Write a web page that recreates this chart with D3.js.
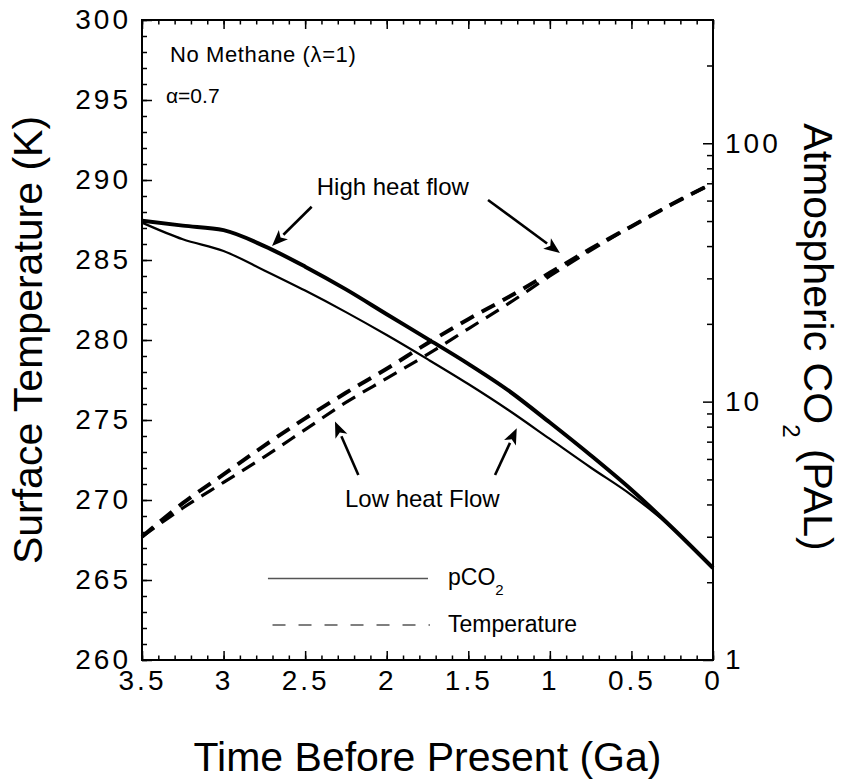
<!DOCTYPE html>
<html>
<head>
<meta charset="utf-8">
<script src="https://cdn.jsdelivr.net/npm/d3@7"></script>
<style>
  body { margin: 0; background: #fff; }
  svg { display: block; font-family: "Liberation Sans", Arial, Helvetica, sans-serif; }
  .tick text { font-size: 28px; letter-spacing: 3px; fill: #000; }
  .tick line { stroke: #000; stroke-width: 1.5; }
</style>
</head>
<body>
<svg id="chart" width="843" height="781"></svg>
<script>
// time before present (Ga), shared by all four curves
const timeGa = [3.5, 3.25, 3.0, 2.75, 2.5, 2.25, 2.0, 1.75, 1.5, 1.25, 1.0, 0.75, 0.5, 0.25, 0];

// atmospheric CO2 (PAL), right log axis
const co2High = [50.2, 48.0, 46.1, 40.0, 33.3, 27.2, 21.8, 17.5, 14.0, 11.0, 8.3, 6.2, 4.56, 3.25, 2.27];
const co2Low  = [49.3, 42.5, 38.3, 32.2, 26.9, 22.2, 18.1, 14.6, 11.7, 9.24, 7.17, 5.56, 4.35, 3.24, 2.27];

// surface temperature (K), left axis
const tempHigh = [267.7, 269.8, 271.6, 273.4, 275.1, 276.7, 278.2, 279.8, 281.3, 282.7, 284.2, 285.7, 287.1, 288.5, 289.8];
const tempLow  = [267.7, 269.5, 271.1, 272.7, 274.4, 276.1, 277.6, 279.1, 280.7, 282.3, 284.0, 285.6, 287.1, 288.5, 289.8];

// tick values / labels
const xTicks = [3.5, 3, 2.5, 2, 1.5, 1, 0.5, 0];
const xLabels = ["3.5", "3", "2.5", "2", "1.5", "1", "0.5", "0"];
const xMinor = d3.range(0, 36).map(d => d / 10);
const tTicks = [260, 265, 270, 275, 280, 285, 290, 295, 300];
const tMinor = d3.range(260, 301);
const cTicks = [1, 10, 100];
const cMinor = [2, 3, 4, 5, 6, 7, 8, 9, 20, 30, 40, 50, 60, 70, 80, 90, 200];

const svg = d3.select("#chart");
const pLeft = 142, pRight = 713, pTop = 20, pBottom = 660;

const x = d3.scaleLinear().domain([3.5, 0]).range([pLeft, pRight]);
const yT = d3.scaleLinear().domain([260, 300]).range([pBottom, pTop]);
const yC = d3.scaleLog().domain([1, 300]).range([pBottom, pTop]);

function noDomain(g) { g.select(".domain").remove(); }

// bottom axis
svg.append("g").attr("transform", `translate(0,${pBottom})`)
  .call(d3.axisBottom(x).tickValues(xMinor).tickSize(-4.5).tickFormat(""))
  .call(noDomain);
svg.append("g").attr("transform", `translate(0,${pBottom})`)
  .call(d3.axisBottom(x).tickValues(xTicks).tickSize(-9).tickPadding(10)
    .tickFormat((d, i) => xLabels[i]))
  .call(noDomain);
// top axis (mirror ticks)
svg.append("g").attr("transform", `translate(0,${pTop})`)
  .call(d3.axisTop(x).tickValues(xMinor).tickSize(-4.5).tickFormat(""))
  .call(noDomain);
svg.append("g").attr("transform", `translate(0,${pTop})`)
  .call(d3.axisTop(x).tickValues(xTicks).tickSize(-9).tickFormat(""))
  .call(noDomain);

// left temperature axis
svg.append("g").attr("transform", `translate(${pLeft},0)`)
  .call(d3.axisLeft(yT).tickValues(tMinor).tickSize(-5).tickFormat(""))
  .call(noDomain);
svg.append("g").attr("transform", `translate(${pLeft},0)`)
  .call(d3.axisLeft(yT).tickValues(tTicks).tickSize(-10).tickPadding(11).tickFormat(d3.format("d")))
  .call(noDomain);

// right CO2 axis (log)
svg.append("g").attr("transform", `translate(${pRight},0)`)
  .call(d3.axisRight(yC).tickValues(cMinor).tickSize(-6).tickFormat(""))
  .call(noDomain);
svg.append("g").attr("transform", `translate(${pRight},0)`)
  .call(d3.axisRight(yC).tickValues(cTicks).tickSize(-10).tickPadding(12).tickFormat(d3.format("d")))
  .call(noDomain);

// frame
svg.append("rect")
  .attr("x", pLeft).attr("y", pTop)
  .attr("width", pRight - pLeft).attr("height", pBottom - pTop)
  .attr("fill", "none").attr("stroke", "#000").attr("stroke-width", 2);

// curves
const lineC = d3.line().x((d, i) => x(timeGa[i])).y(d => yC(d)).curve(d3.curveMonotoneX);
const lineT = d3.line().x((d, i) => x(timeGa[i])).y(d => yT(d)).curve(d3.curveMonotoneX);

const curves = svg.append("g").attr("fill", "none").attr("stroke", "#000");
curves.append("path").attr("d", lineC(co2Low)).attr("stroke-width", 2.2);
curves.append("path").attr("d", lineC(co2High)).attr("stroke-width", 4);
curves.append("path").attr("d", lineT(tempLow)).attr("stroke-width", 3.2).attr("stroke-dasharray", "15,9");
curves.append("path").attr("d", lineT(tempHigh)).attr("stroke-width", 4).attr("stroke-dasharray", "15,9");

// annotation arrows (tail -> tip, in Ga / K)
const arrows = [
  [[2.46, 288.33], [2.703, 285.875]],
  [[1.379, 288.75], [0.938, 285.44]],
  [[2.174, 271.56], [2.317, 274.9]],
  [[1.336, 271.56], [1.203, 274.48]]
];
const ag = svg.append("g");
arrows.forEach(([a, b]) => {
  const x1 = x(a[0]), y1 = yT(a[1]), x2 = x(b[0]), y2 = yT(b[1]);
  const ang = Math.atan2(y2 - y1, x2 - x1);
  const len = 16, hw = 6.5;
  const bx = x2 - len * Math.cos(ang), by = y2 - len * Math.sin(ang);
  ag.append("line")
    .attr("x1", x1).attr("y1", y1).attr("x2", bx).attr("y2", by)
    .attr("stroke", "#000").attr("stroke-width", 2.6);
  ag.append("path")
    .attr("d", `M${x2},${y2}L${bx - hw * Math.sin(ang)},${by + hw * Math.cos(ang)}` +
      `L${bx + 4 * Math.cos(ang)},${by + 4 * Math.sin(ang)}` +
      `L${bx + hw * Math.sin(ang)},${by - hw * Math.cos(ang)}Z`)
    .attr("fill", "#000");
});

// text annotations
const txt = svg.append("g").attr("fill", "#000");
txt.append("text").attr("x", x(3.328)).attr("y", yT(297.4))
  .attr("font-size", 22).attr("letter-spacing", 0.6).text("No Methane (\u03BB=1)");
txt.append("text").attr("x", x(3.353)).attr("y", yT(294.8))
  .attr("font-size", 21).text("\u03B1=0.7");
txt.append("text").attr("x", x(2.429)).attr("y", yT(289.06))
  .attr("font-size", 24).text("High heat flow");
txt.append("text").attr("x", x(2.256)).attr("y", yT(269.58))
  .attr("font-size", 24).text("Low heat Flow");

// legend
const leg = svg.append("g");
leg.append("line").attr("x1", x(2.728)).attr("x2", x(1.747))
  .attr("y1", yT(265.09)).attr("y2", yT(265.09))
  .attr("stroke", "#555").attr("stroke-width", 1.6);
leg.append("line").attr("x1", x(2.70)).attr("x2", x(1.735))
  .attr("y1", yT(262.19)).attr("y2", yT(262.19))
  .attr("stroke", "#555").attr("stroke-width", 1.6).attr("stroke-dasharray", "13,13");
const pco2 = leg.append("text").attr("x", x(1.624)).attr("y", yT(264.69)).attr("font-size", 23);
pco2.append("tspan").text("pCO");
pco2.append("tspan").attr("dy", 10).attr("font-size", 15).text("2");
leg.append("text").attr("x", x(1.624)).attr("y", yT(261.75)).attr("font-size", 23).text("Temperature");

// axis titles
svg.append("text")
  .attr("x", (pLeft + pRight) / 2).attr("y", 771)
  .attr("text-anchor", "middle").attr("font-size", 41)
  .text("Time Before Present (Ga)");
svg.append("text")
  .attr("transform", `translate(42,${(pTop + pBottom) / 2}) rotate(-90)`)
  .attr("text-anchor", "middle").attr("font-size", 41)
  .text("Surface Temperature (K)");
const rt = svg.append("text")
  .attr("transform", `translate(804,${(pTop + pBottom) / 2 - 3}) rotate(90)`)
  .attr("text-anchor", "middle").attr("font-size", 41);
rt.append("tspan").text("Atmospheric CO");
rt.append("tspan").attr("dy", 21).attr("font-size", 24).text("2");
rt.append("tspan").attr("dy", -21).text(" (PAL)");
</script>
</body>
</html>
